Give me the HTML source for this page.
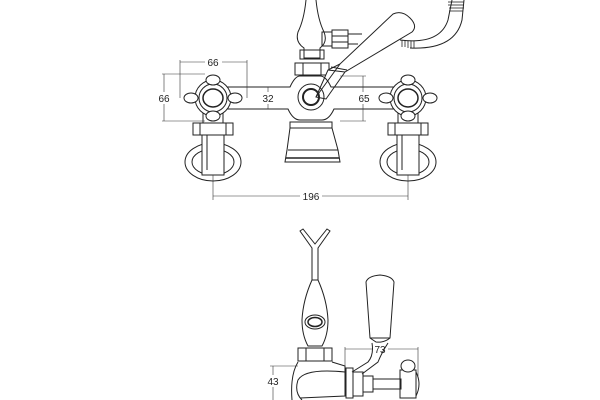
<!DOCTYPE html>
<html><head><style>
html,body{margin:0;padding:0;background:#fff;}
svg{display:block;}
text{font-family:"Liberation Sans",sans-serif;font-size:10px;fill:#222;}
</style></head><body>
<svg width="600" height="400" viewBox="0 0 600 400" xmlns="http://www.w3.org/2000/svg">
<rect width="600" height="400" fill="#fff"/>
<g fill="none" stroke="#222" stroke-width="1">
<path d="M400 40 Q440 45 448 20 L452 0"/>
<path d="M410 48 Q455 50 462 20 L464 0"/>
<g stroke-width="0.8">
<line x1="402" y1="40" x2="402" y2="47"/><line x1="405" y1="40" x2="405" y2="47"/><line x1="408" y1="41" x2="408" y2="48"/><line x1="411" y1="41" x2="411" y2="48"/><line x1="414" y1="41" x2="414" y2="48"/>
<line x1="448" y1="2" x2="464" y2="2"/><line x1="448" y1="5" x2="464" y2="5"/><line x1="449" y1="8" x2="464" y2="8"/><line x1="449" y1="11" x2="463" y2="11"/>
</g>
<path d="M306 0 Q304 20 298 32 Q295 42 304 48 L304 58 L320 58 L320 48 Q328 42 324 32 Q318 20 316 0"/>
<rect x="300" y="50" width="24" height="9"/>
<rect x="295" y="63" width="34" height="12"/>
<line x1="303" y1="63" x2="303" y2="75"/><line x1="321" y1="63" x2="321" y2="75"/>
<rect x="322" y="32" width="10" height="14"/>
<rect x="332" y="30" width="16" height="18"/>
<line x1="332" y1="36" x2="348" y2="36"/><line x1="332" y1="42" x2="348" y2="42"/>
<line x1="348" y1="34" x2="362" y2="34"/><line x1="348" y1="44" x2="358" y2="44"/>
<path d="M316 97 L328 70 L340 64 L393 14 Q402 10 410 18 Q418 26 412 32 L345 72 L326 99 Z" fill="#fff"/>
<line x1="328" y1="70" x2="345" y2="72"/>
<line x1="331" y1="67" x2="347" y2="70"/>
<path d="M213 87 L290 87 Q295 76 300 76 L320 76 Q326 76 331 87 L408 87 M213 109 L288 109 Q293 120 300 120 L322 120 Q329 120 334 109 L408 109"/>
<circle cx="311" cy="97" r="13"/>
<circle cx="311" cy="97" r="8" stroke-width="2"/>
<path d="M316 97 L340 64"/>
<path d="M290 122 L332 122 L332 128 L338 150 L340 162 L285 162 L287 150 L290 128 Z"/>
<line x1="290" y1="128" x2="332" y2="128"/>
<line x1="288" y1="150" x2="338" y2="150"/>
<line x1="286" y1="158" x2="339" y2="158" stroke-width="1.5"/>
<g id="valve">
<ellipse cx="213" cy="162" rx="28" ry="19"/>
<ellipse cx="213" cy="162" rx="21" ry="13"/>
<rect x="202" y="133" width="22" height="42" fill="#fff"/>
<line x1="207" y1="133" x2="207" y2="170"/>
<rect x="193" y="123" width="40" height="12" fill="#fff"/>
<line x1="200" y1="123" x2="200" y2="135"/><line x1="226" y1="123" x2="226" y2="135"/>
<path d="M203 112 L203 123 M223 112 L223 123"/>
<circle cx="213" cy="98" r="18" fill="#fff"/>
<circle cx="213" cy="98" r="14"/>
<ellipse cx="213" cy="98" rx="10" ry="9" stroke-width="1.5"/>
<ellipse cx="213" cy="80" rx="7" ry="5" fill="#fff"/>
<ellipse cx="213" cy="116" rx="7" ry="5" fill="#fff"/>
<ellipse cx="191" cy="98" rx="7" ry="5" fill="#fff"/>
<ellipse cx="235" cy="98" rx="7" ry="5" fill="#fff"/>
</g>
<use href="#valve" x="195"/>
<path d="M300 231 L303 229 L315 244 L327 229 L330 231 L318 248 L318 280 L312 280 L312 248 Z"/>
<path d="M312 280 Q303 300 302 320 Q302 335 308 346 L322 346 Q328 335 328 320 Q327 300 318 280"/>
<ellipse cx="315" cy="322" rx="10" ry="7"/>
<ellipse cx="315" cy="322" rx="7" ry="4.5" stroke-width="1.5"/>
<rect x="298" y="348" width="34" height="13"/>
<line x1="306" y1="348" x2="306" y2="361"/><line x1="324" y1="348" x2="324" y2="361"/>
<path d="M298 362 Q290 375 292 400 M332 362 L345 366 L345 396 L300 398"/>
<path d="M345 372 Q305 368 298 380 Q294 392 302 400"/>
<path d="M366 282 Q368 276 380 275 Q392 276 394 282 L390 338 Q384 343 376 342 L370 338 Z"/>
<line x1="370" y1="338" x2="390" y2="338"/>
<path d="M372 343 Q374 355 368 362 L352 372 M388 343 Q382 352 378 362 L362 374"/>
<rect x="346" y="368" width="7" height="30"/>
<rect x="353" y="372" width="10" height="24"/>
<rect x="363" y="376" width="10" height="16"/>
<rect x="373" y="379" width="28" height="10"/>
<rect x="400" y="370" width="16" height="28"/>
<ellipse cx="408" cy="366" rx="7" ry="6" fill="#fff"/>
<path d="M416 372 Q422 384 416 396"/>
</g>
<g fill="none" stroke="#333" stroke-width="0.6">
<line x1="180" y1="62" x2="205" y2="62"/><line x1="222" y1="62" x2="247" y2="62"/>
<line x1="180" y1="60" x2="180" y2="98"/><line x1="247" y1="60" x2="247" y2="98"/>
<line x1="164" y1="74" x2="164" y2="92"/><line x1="164" y1="104" x2="164" y2="121"/>
<line x1="162" y1="74" x2="205" y2="74"/><line x1="162" y1="121" x2="205" y2="121"/>
<line x1="268" y1="87" x2="268" y2="92"/><line x1="268" y1="104" x2="268" y2="109"/>
<line x1="363" y1="76" x2="363" y2="92"/><line x1="363" y1="104" x2="363" y2="121"/>
<line x1="340" y1="76" x2="366" y2="76"/><line x1="340" y1="121" x2="366" y2="121"/>
<line x1="213" y1="196" x2="300" y2="196"/><line x1="322" y1="196" x2="408" y2="196"/>
<line x1="213" y1="175" x2="213" y2="200"/><line x1="408" y1="175" x2="408" y2="200"/>
<line x1="273" y1="366" x2="273" y2="375"/><line x1="273" y1="387" x2="273" y2="400"/>
<line x1="270" y1="366" x2="298" y2="366"/>
<line x1="345" y1="349" x2="372" y2="349"/><line x1="388" y1="349" x2="418" y2="349"/>
<line x1="345" y1="347" x2="345" y2="366"/><line x1="418" y1="347" x2="418" y2="376"/>
</g>
<text x="213" y="66" text-anchor="middle">66</text>
<text x="164" y="102" text-anchor="middle">66</text>
<text x="268" y="102" text-anchor="middle">32</text>
<text x="364" y="102" text-anchor="middle">65</text>
<text x="311" y="200" text-anchor="middle">196</text>
<text x="273" y="385" text-anchor="middle">43</text>
<text x="380" y="353" text-anchor="middle">73</text>
</svg>
</body></html>
